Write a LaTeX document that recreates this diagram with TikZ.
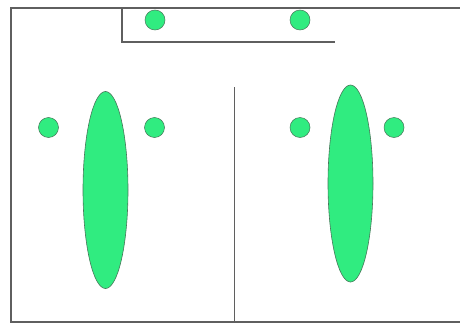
\documentclass[tikz,border=0pt]{standalone}
\usetikzlibrary{shapes.geometric}
\definecolor{blobgreen}{RGB}{48,236,128}
\definecolor{blobedge}{RGB}{70,120,90}
\definecolor{wallgray}{RGB}{95,95,95}
\begin{document}
\begin{tikzpicture}[x=1pt,y=-1pt,
  wall/.style={draw=wallgray,line width=1.6pt},
  dot/.style={circle,fill=blobgreen,draw=blobedge,line width=0.5pt,minimum size=20pt,inner sep=0pt},
  blob/.style={ellipse,fill=blobgreen,draw=blobedge,line width=0.6pt,minimum width=45pt,minimum height=197pt,inner sep=0pt}]
\useasboundingbox (0,0) rectangle (460,324);
\fill[white] (0,0) rectangle (460,324);
% frame
\draw[wall] (461,8) -- (11,8) -- (11,322) -- (461,322);
% top inner bracket
\draw[wall,line width=1.3pt] (122,8) -- (122,42) -- (335,42);
% divider
\draw[wall,line width=1.3pt] (234.5,87) -- (234.5,322);
% top dots
\node[dot] (t1) at (155,20) {};
\node[dot] (t2) at (300,20) {};
% left group
\node[dot] (l1) at (48.5,127.5) {};
\node[dot] (l2) at (154.5,127.5) {};
\node[blob] (le) at (105.5,190) {};
% right group
\node[dot] (r1) at (300,127.5) {};
\node[dot] (r2) at (394,127.5) {};
\node[blob] (re) at (350.5,183.5) {};
\end{tikzpicture}
\end{document}
